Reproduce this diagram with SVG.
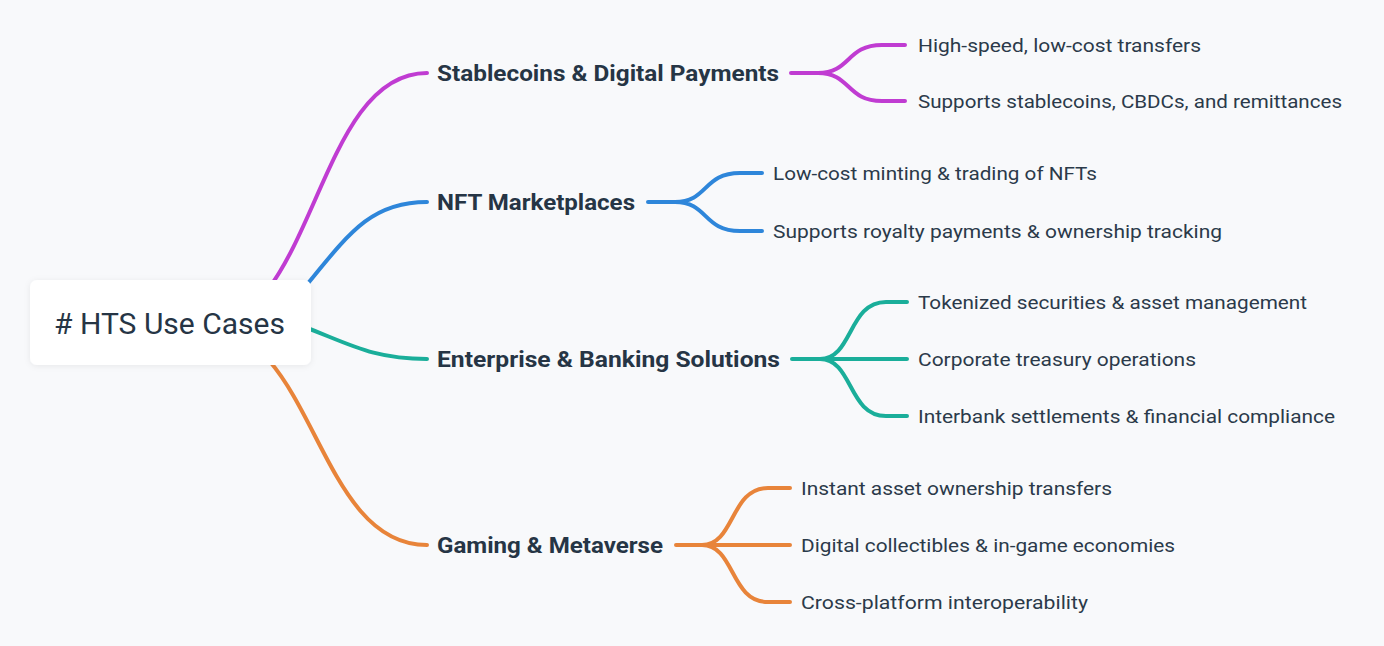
<svg xmlns="http://www.w3.org/2000/svg" width="1384" height="646" viewBox="0 0 1384 646">
<style>
.bg{fill:#f8f9fb}
.ln{fill:none;stroke-width:4;stroke-linecap:round;stroke-linejoin:round}
.m{stroke:#c03cd2}.b{stroke:#2e86da}.t{stroke:#1aae9a}.o{stroke:#e8843a}
.l1{font-family:Roboto,"Noto Sans",sans-serif;font-weight:bold;font-size:22px;fill:#263545}
.lf{font-family:Roboto,"Noto Sans",sans-serif;font-size:19px;fill:#2b3a4a}
.root{font-family:Roboto,"Noto Sans",sans-serif;font-size:29px;fill:#263545}
</style>
<defs>
<filter id="sh" x="-20%" y="-30%" width="140%" height="160%">
<feDropShadow dx="0" dy="1" stdDeviation="3" flood-color="#000" flood-opacity="0.07"/>
</filter>
</defs>
<rect class="bg" x="0" y="0" width="1384" height="646"/>
<g id="connectors">
<path class="ln m" d="M203,327 C315,327 315,73 427,73"/>
<path class="ln b" d="M290,305 C345,240 365,202 427,202"/>
<path class="ln t" d="M280,318 C345,340 365,359 427,359"/>
<path class="ln o" d="M203,327 C315,327 315,545 427,545"/>
<path class="ln m" d="M791,73 H818 C851,73 846,45 882,45 H905 M818,73 C851,73 846,101 882,101 H905"/>
<path class="ln b" d="M648,202 H675 C708,202 703,173 740,173 H762 M675,202 C708,202 703,231 740,231 H762"/>
<path class="ln t" d="M792,359 H820 C853,359 848,302 886,302 H907 M820,359 C853,359 848,416 886,416 H907 M820,359 H907"/>
<path class="ln o" d="M676,545 H702 C735,545 730,488 768,488 H790 M702,545 C735,545 730,602 768,602 H790 M702,545 H790"/>
</g>
<g id="root">
<rect x="30" y="280" width="281" height="85" rx="7" fill="#fff" filter="url(#sh)"/>
<text class="root" x="54" y="334" textLength="231" lengthAdjust="spacingAndGlyphs"># HTS Use Cases</text>
</g>
<g id="stablecoins">
<text class="l1" x="437" y="81" textLength="342" lengthAdjust="spacingAndGlyphs">Stablecoins &amp; Digital Payments</text>
</g>
<g id="stablecoins-1"><text class="lf" x="918" y="52" textLength="283" lengthAdjust="spacingAndGlyphs">High-speed, low-cost transfers</text></g>
<g id="stablecoins-2"><text class="lf" x="918" y="108" textLength="424" lengthAdjust="spacingAndGlyphs">Supports stablecoins, CBDCs, and remittances</text></g>
<g id="nft">
<text class="l1" x="437" y="210" textLength="198" lengthAdjust="spacingAndGlyphs">NFT Marketplaces</text>
</g>
<g id="nft-1"><text class="lf" x="773" y="180" textLength="324" lengthAdjust="spacingAndGlyphs">Low-cost minting &amp; trading of NFTs</text></g>
<g id="nft-2"><text class="lf" x="773" y="238" textLength="449" lengthAdjust="spacingAndGlyphs">Supports royalty payments &amp; ownership tracking</text></g>
<g id="enterprise">
<text class="l1" x="437" y="367" textLength="343" lengthAdjust="spacingAndGlyphs">Enterprise &amp; Banking Solutions</text>
</g>
<g id="enterprise-1"><text class="lf" x="918" y="309" textLength="389" lengthAdjust="spacingAndGlyphs">Tokenized securities &amp; asset management</text></g>
<g id="enterprise-2"><text class="lf" x="918" y="366" textLength="278" lengthAdjust="spacingAndGlyphs">Corporate treasury operations</text></g>
<g id="enterprise-3"><text class="lf" x="918" y="423" textLength="417" lengthAdjust="spacingAndGlyphs">Interbank settlements &amp; financial compliance</text></g>
<g id="gaming">
<text class="l1" x="437" y="553" textLength="226" lengthAdjust="spacingAndGlyphs">Gaming &amp; Metaverse</text>
</g>
<g id="gaming-1"><text class="lf" x="801" y="495" textLength="311" lengthAdjust="spacingAndGlyphs">Instant asset ownership transfers</text></g>
<g id="gaming-2"><text class="lf" x="801" y="552" textLength="374" lengthAdjust="spacingAndGlyphs">Digital collectibles &amp; in-game economies</text></g>
<g id="gaming-3"><text class="lf" x="801" y="609" textLength="287" lengthAdjust="spacingAndGlyphs">Cross-platform interoperability</text></g>
</svg>
